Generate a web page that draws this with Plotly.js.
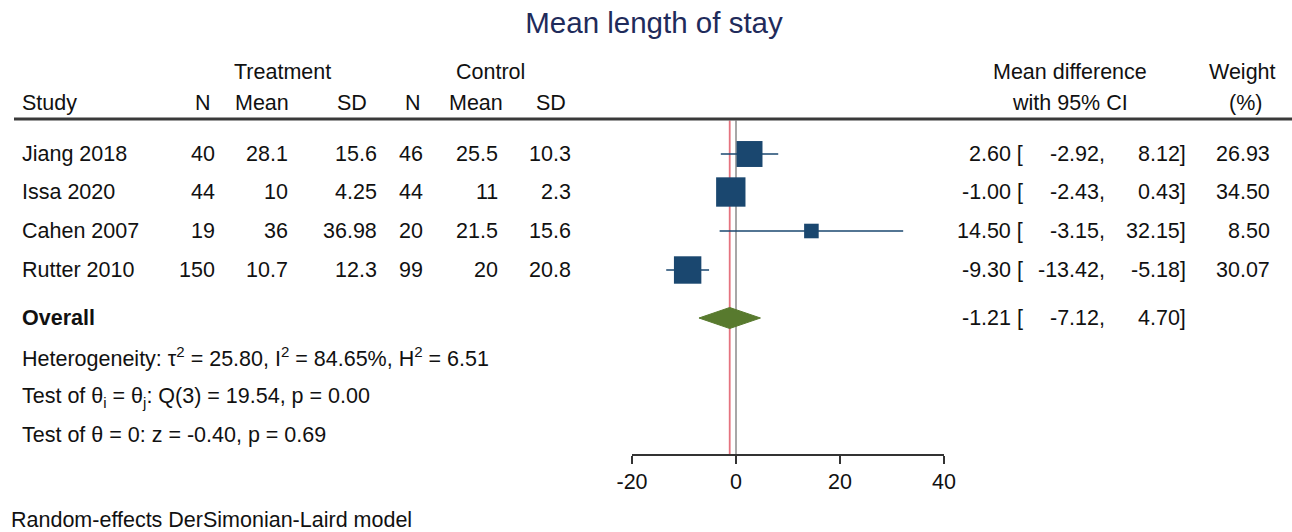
<!DOCTYPE html>
<html>
<head>
<meta charset="utf-8">
<script src="https://cdn.plot.ly/plotly-3.0.1.min.js"></script>
<style>html,body{margin:0;padding:0;background:#fff;}#chart{width:1292px;height:532px;}</style>
</head>
<body>
<div id="chart"></div>
<script>
// ---- data ----
const studies   = ['Jiang 2018', 'Issa 2020', 'Cahen 2007', 'Rutter 2010'];
const trtN      = [40, 44, 19, 150];
const trtMean   = [28.1, 10, 36, 10.7];
const trtSD     = [15.6, 4.25, 36.98, 12.3];
const ctrlN     = [46, 44, 20, 99];
const ctrlMean  = [25.5, 11, 21.5, 20];
const ctrlSD    = [10.3, 2.3, 15.6, 20.8];
const md        = [2.60, -1.00, 14.50, -9.30];
const ciLo      = [-2.92, -2.43, -3.15, -13.42];
const ciHi      = [8.12, 0.43, 32.15, -5.18];
const weight    = [26.93, 34.50, 8.50, 30.07];
const overallEst = -1.21, overallLo = -7.12, overallHi = 4.70;
const xTicks    = [-20, 0, 20, 40];
const titleText = 'Mean length of stay';
const hetText   = 'Heterogeneity: τ<sup>2</sup> = 25.80, I<sup>2</sup> = 84.65%, H<sup>2</sup> = 6.51';
const test1Text = 'Test of θ<sub>i</sub> = θ<sub>j</sub>: Q(3) = 19.54, p = 0.00';
const test2Text = 'Test of θ = 0: z = -0.40, p = 0.69';
const modelText = 'Random-effects DerSimonian-Laird model';

// ---- layout constants (pixel positions) ----
const W = 1292, H = 532;
const FONT = 'Liberation Sans, Arial, Helvetica, sans-serif';
const FS = 21.5;
const TXT = '#111111';
const NAVY = '#1a476f';
const GREEN = '#587a2e';
const rowY = [154, 192, 231, 270];
const overallY = 318;
const ruleY = 119, axisY = 454;
const px = x => x / W;

const annotations = [];
function txt(text, x, y, align, opts) {
  opts = opts || {};
  annotations.push({
    text: text, xref: 'paper', yref: 'y', x: px(x), y: y,
    xanchor: align, yanchor: 'middle', showarrow: false,
    font: {family: FONT, size: opts.size || FS, color: opts.color || TXT}
  });
}

// headers
txt('Treatment', 282, 72, 'center');
txt('Control', 490, 72, 'center');
txt('Mean difference', 1070, 72, 'center');
txt('Weight', 1242, 72, 'center');
txt('Study', 20, 103, 'left');
txt('N', 213, 103, 'right');
txt('Mean', 291, 103, 'right');
txt('SD', 369, 103, 'right');
txt('N', 423, 103, 'right');
txt('Mean', 505, 103, 'right');
txt('SD', 568, 103, 'right');
txt('with 95% CI', 1070, 103, 'center');
txt('(%)', 1245, 103, 'center');

// study rows
studies.forEach((s, i) => {
  const y = rowY[i];
  txt(s, 20, y, 'left');
  txt(String(trtN[i]), 217, y, 'right');
  txt(String(trtMean[i]), 290, y, 'right');
  txt(String(trtSD[i]), 379, y, 'right');
  txt(String(ctrlN[i]), 425, y, 'right');
  txt(String(ctrlMean[i]), 500, y, 'right');
  txt(String(ctrlSD[i]), 573, y, 'right');
  txt(md[i].toFixed(2) + ' [', 1025, y, 'right');
  txt(ciLo[i].toFixed(2) + ',', 1107, y, 'right');
  txt(ciHi[i].toFixed(2) + ']', 1188, y, 'right');
  txt(weight[i].toFixed(2), 1272, y, 'right');
});

// overall
txt('<b>Overall</b>', 20, overallY, 'left');
txt(overallEst.toFixed(2) + ' [', 1025, overallY, 'right');
txt(overallLo.toFixed(2) + ',', 1107, overallY, 'right');
txt(overallHi.toFixed(2) + ']', 1188, overallY, 'right');

// footnotes
txt(hetText, 20, 357, 'left');
txt(test1Text, 20, 397, 'left');
txt(test2Text, 20, 435, 'left');
txt(modelText, 9, 520, 'left');

// ---- traces ----
const ciX = [], ciY = [];
md.forEach((m, i) => {
  ciX.push(ciLo[i], ciHi[i], null);
  ciY.push(rowY[i], rowY[i], null);
});
const ciTrace = {
  type: 'scatter', mode: 'lines', x: ciX, y: ciY,
  line: {color: NAVY, width: 1.6}, hoverinfo: 'skip'
};
const boxTrace = {
  type: 'scatter', mode: 'markers', x: md, y: rowY,
  marker: {symbol: 'square', color: NAVY, opacity: 1,
           size: weight.map(w => 5.0 * Math.sqrt(w)),
           line: {width: 0}},
  hoverinfo: 'x'
};
const dh = 10.5;
const diamond = {
  type: 'scatter', mode: 'lines', fill: 'toself', fillcolor: GREEN,
  x: [overallLo, overallEst, overallHi, overallEst, overallLo],
  y: [overallY, overallY - dh, overallY, overallY + dh, overallY],
  line: {color: GREEN, width: 1}, hoverinfo: 'skip'
};

const layout = {
  width: W, height: H,
  margin: {l: 0, r: 0, t: 0, b: 0, pad: 0},
  paper_bgcolor: '#ffffff', plot_bgcolor: 'rgba(0,0,0,0)',
  showlegend: false,
  font: {family: FONT, size: FS, color: TXT},
  title: {
    text: titleText, x: 654 / W, xanchor: 'center', xref: 'paper',
    y: 1 - 23 / H, yanchor: 'middle', yref: 'paper',
    font: {family: FONT, size: 29.5, color: '#1f2b5b'}
  },
  xaxis: {
    domain: [632 / W, 944 / W], range: [-20, 40],
    tickvals: xTicks, ticktext: xTicks.map(String),
    showline: true, linecolor: '#333333', linewidth: 1.5,
    ticks: 'outside', ticklen: 8, tickwidth: 1.5, tickcolor: '#333333',
    showgrid: false, zeroline: false,
    anchor: 'free', position: 1 - axisY / H,
    tickfont: {family: FONT, size: FS, color: TXT},
    fixedrange: true
  },
  yaxis: {
    domain: [0, 1], range: [H, 0], visible: false, fixedrange: true
  },
  shapes: [
    {type: 'line', xref: 'paper', yref: 'y', x0: 14 / W, x1: 1, y0: ruleY, y1: ruleY,
     line: {color: '#3a3a3a', width: 3}},
    {type: 'line', xref: 'x', yref: 'y', x0: 0, x1: 0, y0: ruleY + 1.5, y1: axisY,
     line: {color: '#8a8a8a', width: 1.5}, layer: 'below'},
    {type: 'line', xref: 'x', yref: 'y', x0: overallEst, x1: overallEst, y0: ruleY + 1.5, y1: axisY,
     line: {color: '#e5737f', width: 1.8}, layer: 'below'}
  ],
  annotations: annotations
};

Plotly.newPlot('chart', [ciTrace, diamond, boxTrace], layout, {displayModeBar: false, staticPlot: true});
</script>
</body>
</html>
